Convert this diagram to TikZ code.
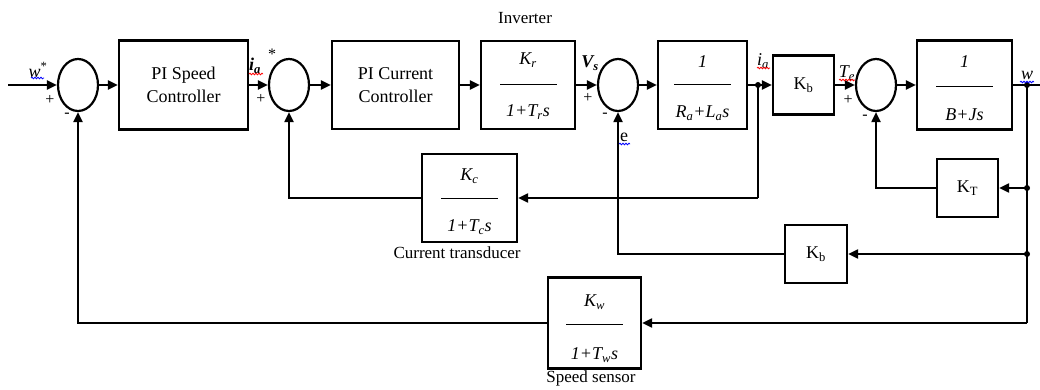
\documentclass[tikz,border=0pt]{standalone}
\usepackage{fontspec}
\setmainfont{Liberation Serif}
\usetikzlibrary{arrows.meta,shapes.geometric,decorations.pathmorphing}
\tikzset{
  box/.style={draw,line width=2.2pt,inner sep=0pt,align=center,font=\fontsize{18}{23}\selectfont},
  sumj/.style={draw,ellipse,line width=2.2pt,minimum width=40pt,minimum height=52pt,inner sep=0pt},
  conn/.style={line width=2pt},
  arr/.style={conn,-{Triangle[length=10pt,width=9pt]}},
  lbl/.style={font=\fontsize{18}{21}\selectfont,inner sep=0pt},
  captxt/.style={font=\fontsize{17}{20}\selectfont,inner sep=0pt},
  sgn/.style={font=\fontsize{16}{17}\selectfont,inner sep=0pt},
  dot/.style={circle,fill,inner sep=0pt,minimum size=6pt},
  fracline/.style={line width=1pt},
  squig/.style={decorate,decoration={snake,amplitude=0.8pt,segment length=3pt},line width=0.8pt}
}
\begin{document}
\begin{tikzpicture}[x=1pt,y=-1pt]
\useasboundingbox (0,0) rectangle (1040,390);
% forward path
\coordinate (in) at (8,85);
\node[sumj] (s1) at (78,85) {};
\node[box,minimum width=129pt,minimum height=89pt] (pis) at (183.5,85) {PI Speed\\Controller};
\node[sumj] (s2) at (289,85) {};
\node[box,minimum width=127pt,minimum height=88pt] (pic) at (395.5,85) {PI Current\\Controller};
\node[box,minimum width=94pt,minimum height=88pt] (inv) at (528,85) {};
\node[sumj] (s3) at (618,85) {};
\node[box,minimum width=89pt,minimum height=88pt] (arm) at (702.5,85) {};
\node[dot] (ja) at (758,85) {};
\node[box,minimum width=61pt,minimum height=59pt] (kb) at (803.5,85) {K\textsubscript{b}};
\node[sumj] (s4) at (876,85) {};
\node[box,minimum width=95pt,minimum height=89pt] (mech) at (964.5,85) {};
\node[dot] (jw) at (1027,85) {};
\coordinate (out) at (1040,85);
% feedback blocks
\node[box,minimum width=61pt,minimum height=58pt] (kt) at (967.5,188) {K\textsubscript{T}};
\node[box,minimum width=62pt,minimum height=58pt] (kb2) at (816,254) {K\textsubscript{b}};
\node[box,minimum width=95pt,minimum height=88pt] (ct) at (469.5,198) {};
\node[box,minimum width=93pt,minimum height=91pt] (ss) at (594.5,323) {};
\node[dot] (jt) at (1027,188) {};
\node[dot] (jb) at (1027,254) {};
\coordinate (cw) at (1027,323);
\coordinate (ca) at (758,198);
% fraction contents
\node[lbl] (invn) at (528,60) {\textit{K\textsubscript{r}}};
\draw[fracline] (500,85) -- (557,85);
\node[lbl] (invd) at (528,112) {\textit{1+T\textsubscript{r}s}};
\node[lbl] (armn) at (702.5,62) {\textit{1}};
\draw[fracline] (674,85) -- (731,85);
\node[lbl] (armd) at (702.5,113) {\textit{R\textsubscript{a}+L\textsubscript{a}s}};
\node[lbl] (mechn) at (964.5,62) {\textit{1}};
\draw[fracline] (936,87) -- (993,87);
\node[lbl] (mechd) at (964.5,115) {\textit{B+Js}};
\node[lbl] (ctn) at (469.5,176) {\textit{K\textsubscript{c}}};
\draw[fracline] (441,198) -- (498,198);
\node[lbl] (ctd) at (469.5,227) {\textit{1+T\textsubscript{c}s}};
\node[lbl] (ssn) at (594.5,302) {\textit{K\textsubscript{w}}};
\draw[fracline] (566,324) -- (623,324);
\node[lbl] (ssd) at (594.5,355) {\textit{1+T\textsubscript{w}s}};
% captions
\node[captxt] (capinv) at (525,18) {Inverter};
\node[captxt] (capct) at (457,253) {Current transducer};
\node[captxt] (capss) at (591,378) {Speed sensor};
% forward connectors
\draw[arr] (in) -- (s1.west);
\draw[arr] (s1.east) -- (pis.west);
\draw[arr] (pis.east) -- (s2.west);
\draw[arr] (s2.east) -- (pic.west);
\draw[arr] (pic.east) -- (inv.west);
\draw[arr] (inv.east) -- (s3.west);
\draw[arr] (s3.east) -- (arm.west);
\draw[arr] (arm.east) -- (kb.west);
\draw[arr] (kb.east) -- (s4.west);
\draw[arr] (s4.east) -- (mech.west);
\draw[conn] (mech.east) -- (out);
% feedback connectors
\draw[conn] (ja.center) -- (ca);
\draw[arr] (ca) -- (ct.east);
\draw[arr] (ct.west) -| (s2.south);
\draw[conn] (jw.center) -- (cw);
\draw[arr] (jt.center) -- (kt.east);
\draw[arr] (kt.west) -| (s4.south);
\draw[arr] (jb.center) -- (kb2.east);
\draw[arr] (kb2.west) -| (s3.south);
\draw[arr] (cw) -- (ss.east);
\draw[arr] (ss.west) -| (s1.south);
% signal labels
\node[lbl] (lw) at (38,70) {\textit{w}\textsuperscript{*}};
\draw[squig,blue] (31,78) -- (44,78);
\node[sgn] (p1) at (50,100) {+};
\node[sgn] (m1) at (67,115) {-};
\node[lbl] (lia) at (255,66) {\textbf{\textit{i\textsubscript{a}}}};
\node[sgn] (st) at (272,54) {*};
\draw[squig,red] (249,74) -- (263,74);
\node[sgn] (p2) at (261,99) {+};
\node[lbl] (lvs) at (590,63) {\textbf{\textit{V\textsubscript{s}}}};
\node[sgn] (p3) at (588,98) {+};
\node[sgn] (m3) at (605,115) {-};
\node[lbl] (le) at (624,137) {e};
\draw[squig,blue] (619,144) -- (630,144);
\node[lbl] (lia2) at (763,61) {\textit{i\textsubscript{a}}};
\draw[squig,red] (757,68) -- (770,68);
\node[lbl] (lte) at (847,73) {\textit{T\textsubscript{e}}};
\draw[squig,red] (839,80) -- (855,80);
\node[sgn] (p4) at (848,100) {+};
\node[sgn] (m4) at (865,117) {-};
\node[lbl] (lwo) at (1027,75) {\textit{w}};
\draw[squig,blue] (1020,82) -- (1034,82);
\end{tikzpicture}
\end{document}
